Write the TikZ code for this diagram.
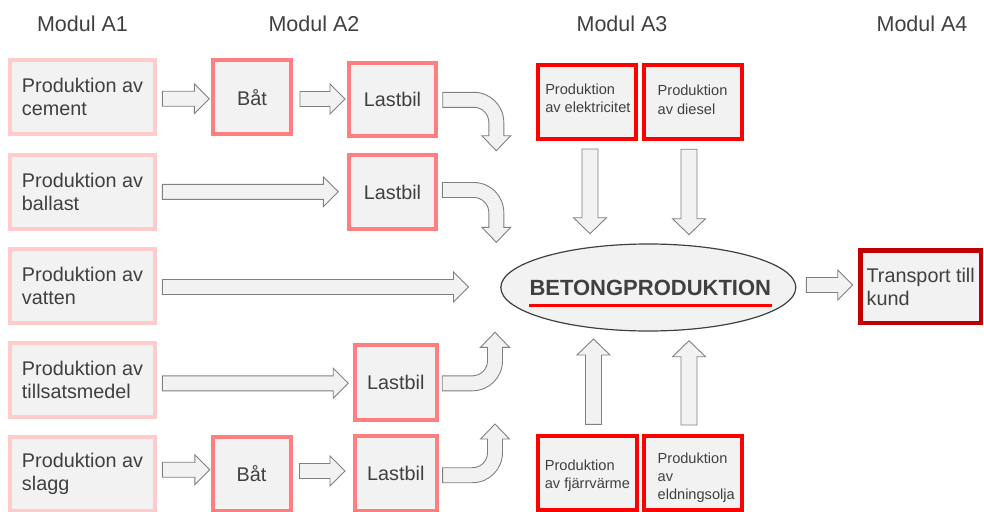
\documentclass[tikz,border=0pt]{standalone}
\usepackage{fontspec}
\setmainfont{Liberation Sans}
\usetikzlibrary{calc,shapes.geometric}

\definecolor{boxfill}{HTML}{F2F2F2}
\definecolor{txt}{HTML}{404040}
\definecolor{arrowline}{HTML}{808080}
\definecolor{modA1}{HTML}{FFCCCC}
\definecolor{modA2}{HTML}{FF7F7F}
\definecolor{modA3}{HTML}{FF0000}
\definecolor{modA4}{HTML}{C00000}

% straight horizontal block arrow: tail centre #1, tip #2
\newcommand\hblock[2]{%
  \draw[blk] let \p1=#1, \p2=#2 in
    (\x1,\y1+7.5pt) -- (\x2-15pt,\y1+7.5pt) -- (\x2-15pt,\y1+15pt) -- (\x2,\y1)
    -- (\x2-15pt,\y1-15pt) -- (\x2-15pt,\y1-7.5pt) -- (\x1,\y1-7.5pt) -- cycle;}
% straight vertical block arrows: tail centre #1, tip #2
\newcommand\downblock[2]{%
  \draw[blk] let \p1=#1, \p2=#2 in
    (\x1-8pt,\y1) -- (\x1+8pt,\y1) -- (\x1+8pt,\y2+16pt) -- (\x1+16.5pt,\y2+16pt)
    -- (\x1,\y2) -- (\x1-16.5pt,\y2+16pt) -- (\x1-8pt,\y2+16pt) -- cycle;}
\newcommand\upblock[2]{%
  \draw[blk] let \p1=#1, \p2=#2 in
    (\x1-8pt,\y1) -- (\x1+8pt,\y1) -- (\x1+8pt,\y2-16pt) -- (\x1+16.5pt,\y2-16pt)
    -- (\x1,\y2) -- (\x1-16.5pt,\y2-16pt) -- (\x1-8pt,\y2-16pt) -- cycle;}
% bent block arrows: run right from #1, turn and end at tip #2
\newcommand\bentdown[2]{%
  \draw[blk] let \p1=#1, \p2=#2 in
    (\x1,\y1+7.5pt) -- (\x2-22.5pt,\y1+7.5pt)
    .. controls (\x2-5.93pt,\y1+7.5pt) and (\x2+7.5pt,\y1-5.93pt) .. (\x2+7.5pt,\y1-22.5pt)
    -- (\x2+7.5pt,\y2+15pt) -- (\x2+14.5pt,\y2+15pt) -- (\x2,\y2)
    -- (\x2-14.5pt,\y2+15pt) -- (\x2-7.5pt,\y2+15pt) -- (\x2-7.5pt,\y1-22.5pt)
    .. controls (\x2-7.5pt,\y1-14.22pt) and (\x2-14.22pt,\y1-7.5pt) .. (\x2-22.5pt,\y1-7.5pt)
    -- (\x1,\y1-7.5pt) -- cycle;}
\newcommand\bentup[2]{%
  \draw[blk] let \p1=#1, \p2=#2 in
    (\x1,\y1-7.5pt) -- (\x2-22.5pt,\y1-7.5pt)
    .. controls (\x2-5.93pt,\y1-7.5pt) and (\x2+7.5pt,\y1+5.93pt) .. (\x2+7.5pt,\y1+22.5pt)
    -- (\x2+7.5pt,\y2-15pt) -- (\x2+14.5pt,\y2-15pt) -- (\x2,\y2)
    -- (\x2-14.5pt,\y2-15pt) -- (\x2-7.5pt,\y2-15pt) -- (\x2-7.5pt,\y1+22.5pt)
    .. controls (\x2-7.5pt,\y1+14.22pt) and (\x2-14.22pt,\y1+7.5pt) .. (\x2-22.5pt,\y1+7.5pt)
    -- (\x1,\y1+7.5pt) -- cycle;}

\tikzset{
  blk/.style={draw=arrowline, fill=boxfill, line width=0.9pt, line join=miter},
  box/.style={draw, fill=boxfill, line width=4pt, text=txt, align=left, inner sep=0pt,
    font=\fontsize{19.8}{23.3}\selectfont},
  srcbox/.style={box, draw=modA1, minimum width=145pt, minimum height=74pt},
  boatbox/.style={box, draw=modA2, minimum width=78pt, minimum height=74pt},
  truckbox/.style={box, draw=modA2, minimum width=87.6pt, minimum height=73.6pt},
  truckboxb/.style={box, draw=modA2, minimum width=82.3pt, minimum height=75pt},
  energybox/.style={box, draw=modA3, minimum width=98.3pt, minimum height=74pt},
  energytext/.style={text=txt, align=left, inner sep=0pt, anchor=north west,
    font=\fontsize{14.6}{18.3}\selectfont},
  custbox/.style={box, draw=modA4, line width=4.5pt, minimum width=120.2pt, minimum height=72.2pt},
  header/.style={text=txt, font=\fontsize{21.5}{24}\selectfont, anchor=base, inner sep=0pt},
}

\begin{document}
\begin{tikzpicture}[x=1pt,y=-1pt]
\useasboundingbox (0,0) rectangle (984,511);

% module headings
\node[header] (h1) at (82.5,32) {Modul A1};
\node[header] (h2) at (314,32) {Modul A2};
\node[header] (h3) at (622,32) {Modul A3};
\node[header] (h4) at (922,32) {Modul A4};

% module A1: raw material production
\node[srcbox] (c1) at (82.5,97.2)  {Produktion av\\cement};
\node[srcbox] (c2) at (82.5,191.7) {Produktion av\\ballast};
\node[srcbox] (c3) at (82.5,285.9) {Produktion av\\vatten};
\node[srcbox] (c4) at (82.5,379.9) {Produktion av\\tillsatsmedel};
\node[srcbox] (c5) at (82.5,474)   {Produktion av\\slagg};

% module A2: transport
\node[boatbox] (b1) at (252,97.2)    {Båt};
\node[boatbox] (b5) at (251.5,473.5) {Båt};
\node[truckbox]  (l1) at (392.5,99.5) {Lastbil};
\node[truckbox]  (l2) at (392.5,192)  {Lastbil};
\node[truckboxb] (l4) at (395.8,382.2) {Lastbil};
\node[truckboxb] (l5) at (395.8,473.7) {Lastbil};

% module A3: energy boxes, their text set from the top left corner
\node[energybox] (el) at (587.2,101.7) {};
\node[energybox] (di) at (693.3,101.7) {};
\node[energybox] (fj) at (587.5,473)   {};
\node[energybox] (eo) at (693.3,473)   {};
\node[energytext] (elT) at ($(el.north west)+(9,21.1)$) {Produktion\\av elektricitet};
\node[energytext] (diT) at ($(di.north west)+(15.3,22.5)$) {Produktion\\av diesel};
\node[energytext] (fjT) at ($(fj.north west)+(8.3,25.5)$) {Produktion\\av fjärrvärme};
\node[energytext] (eoT) at ($(eo.north west)+(15.3,18.5)$) {Produktion\\av\\eldningsolja};

% the ellipse keeps its given size: the title is set in a zero-width box
\node[ellipse, draw=txt, line width=1.2pt, fill=boxfill, minimum width=295pt,
      minimum height=87pt, inner sep=0pt, text=txt,
      font=\fontsize{22}{24}\selectfont\bfseries] (bet) at (648.3,287.5)
      {\makebox[0pt]{\hspace{4pt}BETONGPRODUKTION}};
\draw[modA3, line width=3.5pt] ($(bet.center)+(-119.3,18.2)$) -- ($(bet.center)+(123.7,18.2)$);

% module A4: delivery
\node[custbox] (tr) at (920.7,286.7) {Transport till\\kund};

% ends of the bent arrows
\coordinate (j1) at (496.3,150.7);
\coordinate (j2) at (496.3,242.3);
\coordinate (j3) at (495,332.3);
\coordinate (j4) at (495,424);

% flows
\hblock{($(c1.east)+(5.3,1.5)$)}{($(b1.west)+(-1.7,0)$)}
\hblock{($(b1.east)+(7,1.8)$)}{($(l1.west)+(-1.7,0)$)}
\bentdown{($(l1.east)+(4.4,0.3)$)}{(j1)}

\hblock{($(c2.east)+(5.3,0.1)$)}{($(l2.west)+(-8.4,0)$)}
\bentdown{($(l2.east)+(4,-2)$)}{(j2)}

\hblock{($(c3.east)+(5.3,1.1)$)}{($(bet.west)+(-31.7,0)$)}

\hblock{($(c4.east)+(5.3,3.4)$)}{($(l4.west)+(-4.4,0)$)}
\bentup{($(l4.east)+(3.3,1.1)$)}{(j3)}

\hblock{($(c5.east)+(5.3,-4.3)$)}{($(b5.west)+(-0.7,0)$)}
\hblock{($(b5.east)+(7,-2.5)$)}{($(l5.west)+(-7.7,0)$)}
\bentup{($(l5.east)+(3.7,1.5)$)}{(j4)}

\downblock{($(el.south)+(2.8,8.3)$)}{($(el.south)+(2.8,93)$)}
\downblock{($(di.south)+(-4.3,8.5)$)}{($(di.south)+(-4.3,94)$)}
\upblock{($(fj.north)+(6,-9.7)$)}{($(fj.north)+(6,-95)$)}
\upblock{($(eo.north)+(-4.3,-9)$)}{($(eo.north)+(-4.3,-93.3)$)}

\hblock{($(bet.east)+(10,-2.5)$)}{($(tr.west)+(-5.6,0)$)}
\end{tikzpicture}
\end{document}
